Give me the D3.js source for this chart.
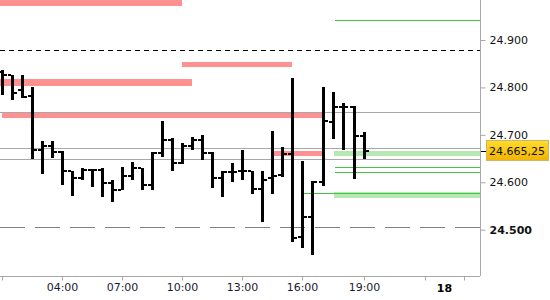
<!DOCTYPE html>
<html>
<head>
    <script src="https://cdn.jsdelivr.net/npm/d3@7"></script>
    <style>
        body { margin: 0; background: #fff; }
        text { font-family: "DejaVu Sans", sans-serif; font-size: 11px; }
    </style>
</head>
<body>
    <svg width="550" height="300"></svg>
    <script>
        // half-hour bars, hour of day 17 (1.0 = 01:00)
        var hours = d3.range(37).map(function(i) { return 1 + i * 0.5; });
        var opens  = [24.833, 24.826, 24.795, 24.782, 24.668, 24.676, 24.664, 24.624, 24.609, 24.626,
                      24.626, 24.598, 24.584, 24.613, 24.630, 24.594, 24.662, 24.689, 24.641, 24.676,
                      24.689, 24.662, 24.609, 24.622, 24.624, 24.624, 24.586, 24.609, 24.615, 24.660,
                      24.485, 24.527, 24.601, 24.727, 24.759, 24.759, 24.698];
        var highs  = [24.837, 24.826, 24.826, 24.801, 24.687, 24.687, 24.666, 24.624, 24.630, 24.628,
                      24.630, 24.605, 24.632, 24.643, 24.630, 24.664, 24.729, 24.693, 24.683, 24.695,
                      24.700, 24.664, 24.624, 24.641, 24.668, 24.624, 24.624, 24.708, 24.674, 24.820,
                      24.645, 24.603, 24.801, 24.790, 24.767, 24.761, 24.706];
        var lows   = [24.784, 24.773, 24.778, 24.649, 24.617, 24.651, 24.594, 24.571, 24.605, 24.590,
                      24.569, 24.558, 24.584, 24.605, 24.584, 24.584, 24.653, 24.624, 24.638, 24.668,
                      24.647, 24.588, 24.569, 24.601, 24.605, 24.575, 24.516, 24.575, 24.611, 24.474,
                      24.461, 24.447, 24.592, 24.691, 24.668, 24.607, 24.649];
        var closes = [24.826, 24.788, 24.780, 24.668, 24.676, 24.664, 24.624, 24.609, 24.626, 24.626,
                      24.598, 24.584, 24.613, 24.630, 24.594, 24.662, 24.689, 24.641, 24.676, 24.689,
                      24.662, 24.609, 24.622, 24.622, 24.624, 24.586, 24.605, 24.613, 24.660, 24.482,
                      24.527, 24.601, 24.729, 24.759, 24.759, 24.698, 24.665];

        var lastPrice = 24.66525;
        var priceTicks = [24.5, 24.6, 24.7, 24.8, 24.9];
        var timeTicks = [1, 4, 7, 10, 13, 16, 19, 22, 24];
        var timeLabels = ["", "04:00", "07:00", "10:00", "13:00", "16:00", "19:00", "", ""];

        // zones: [fromHour, toHour, topPrice, bottomPrice]
        var redZones = [[0.9, 10.0, 24.985, 24.972], [10.0, 15.5, 24.854, 24.843],
                        [0.9, 10.5, 24.818, 24.803], [1.0, 17.0, 24.748, 24.736],
                        [14.6, 17.0, 24.666, 24.655]];
        var greenZones = [[17.55, 24.9, 24.666, 24.655], [17.55, 24.9, 24.579, 24.567]];
        // lines: [fromHour, price]
        var greenLines = [[17.6, 24.943], [17.6, 24.632], [17.6, 24.621], [16.0, 24.577]];
        var greyLines = [24.748, 24.672, 24.650];
        var blackDashed = 24.879;
        var greyDashed = 24.505;

        var plotW = 480, plotH = 276;
        var svg = d3.select("svg");

        var x = d3.scaleLinear()
            .domain([0.9, 16, 19, 22, 24, 24.9])
            .range([0, 302, 364, 425, 464, 480]);
        var y = d3.scaleLinear()
            .domain([24.5, 24.9])
            .range([229.7, 40]);

        var g = svg.append("g").attr("shape-rendering", "crispEdges");

        function zone(d) {
            return { x: x(d[0]), w: x(d[1]) - x(d[0]), y: y(d[2]), h: y(d[3]) - y(d[2]) };
        }
        g.selectAll(".rz").data(redZones).enter().append("rect")
            .attr("x", function(d) { return zone(d).x; })
            .attr("y", function(d) { return Math.max(0, zone(d).y); })
            .attr("width", function(d) { return zone(d).w; })
            .attr("height", function(d) { return zone(d).y + zone(d).h - Math.max(0, zone(d).y); })
            .attr("fill", "#ff9191");
        g.selectAll(".gz").data(greenZones).enter().append("rect")
            .attr("x", function(d) { return zone(d).x; })
            .attr("y", function(d) { return zone(d).y; })
            .attr("width", function(d) { return zone(d).w; })
            .attr("height", function(d) { return zone(d).h; })
            .attr("fill", "#b5e8b3");

        g.selectAll(".gl").data(greyLines).enter().append("line")
            .attr("x1", 0).attr("x2", plotW)
            .attr("y1", function(d) { return Math.round(y(d)) + 0.5; })
            .attr("y2", function(d) { return Math.round(y(d)) + 0.5; })
            .attr("stroke", "#a8a8a8");

        g.selectAll(".grl").data(greenLines).enter().append("line")
            .attr("x1", function(d) { return x(d[0]); }).attr("x2", plotW)
            .attr("y1", function(d) { return Math.round(y(d[1])) + 0.5; })
            .attr("y2", function(d) { return Math.round(y(d[1])) + 0.5; })
            .attr("stroke", "#44c444");

        g.append("line")
            .attr("x1", 0).attr("x2", plotW)
            .attr("y1", Math.round(y(blackDashed)) + 0.5).attr("y2", Math.round(y(blackDashed)) + 0.5)
            .attr("stroke", "#000").attr("stroke-dasharray", "5,4");
        g.append("line")
            .attr("x1", 0).attr("x2", plotW)
            .attr("y1", Math.round(y(greyDashed)) + 0.5).attr("y2", Math.round(y(greyDashed)) + 0.5)
            .attr("stroke", "#808080").attr("stroke-dasharray", "25,10");

        // OHLC bars
        var bars = g.selectAll(".bar").data(hours).enter().append("g");
        bars.append("rect")
            .attr("x", function(d) { return Math.round(x(d)) - 1; })
            .attr("y", function(d, i) { return Math.round(y(highs[i])); })
            .attr("width", 3)
            .attr("height", function(d, i) { return Math.round(y(lows[i])) - Math.round(y(highs[i])); })
            .attr("fill", "#000");
        bars.append("rect")
            .attr("x", function(d) { return Math.round(x(d)) - 4; })
            .attr("y", function(d, i) { return Math.round(y(opens[i])) - 1; })
            .attr("width", 3).attr("height", 2)
            .attr("fill", "#000");
        bars.append("rect")
            .attr("x", function(d) { return Math.round(x(d)) + 2; })
            .attr("y", function(d, i) { return Math.round(y(closes[i])) - 1; })
            .attr("width", 3).attr("height", 2)
            .attr("fill", "#000");

        // y axis on the right
        var yAxis = svg.append("g")
            .attr("transform", "translate(" + (plotW + 0.5) + ",0)")
            .call(d3.axisRight(y).tickValues(priceTicks).tickSize(5).tickPadding(4)
                .tickFormat(d3.format(".3f")));
        yAxis.select(".domain").remove();
        yAxis.selectAll(".tick line").attr("stroke", "#a8a8a8");
        yAxis.selectAll(".tick text")
            .attr("fill", "#111")
            .style("font-size", "11px")
            .style("font-weight", function(d) { return d === 24.5 ? "bold" : "normal"; });
        svg.append("line")
            .attr("x1", plotW + 0.5).attr("x2", plotW + 0.5)
            .attr("y1", 0).attr("y2", plotH)
            .attr("stroke", "#a8a8a8");

        // x axis
        var xAxis = svg.append("g")
            .attr("transform", "translate(0," + (plotH + 0.5) + ")")
            .call(d3.axisBottom(x).tickValues(timeTicks).tickSize(4).tickPadding(3)
                .tickFormat(function(d, i) { return timeLabels[i]; }));
        xAxis.select(".domain").remove();
        xAxis.selectAll(".tick line").attr("stroke", "#a8a8a8");
        xAxis.selectAll(".tick text").attr("fill", "#1a1a33").style("font-size", "11px");
        svg.append("line")
            .attr("x1", 0).attr("x2", plotW)
            .attr("y1", plotH + 0.5).attr("y2", plotH + 0.5)
            .attr("stroke", "#a8a8a8");
        svg.append("text")
            .attr("x", x(23)).attr("y", plotH + 16)
            .attr("text-anchor", "middle")
            .style("font-weight", "bold").style("font-size", "11px")
            .attr("fill", "#000")
            .text("18");

        // last price tag
        var defs = svg.append("defs");
        var grad = defs.append("linearGradient").attr("id", "tag")
            .attr("x1", 0).attr("y1", 0).attr("x2", 0).attr("y2", 1);
        grad.append("stop").attr("offset", "0%").attr("stop-color", "#ffdc2e");
        grad.append("stop").attr("offset", "100%").attr("stop-color", "#f2b300");
        var py = Math.round(y(lastPrice));
        svg.append("line")
            .attr("x1", plotW + 1).attr("x2", plotW + 7)
            .attr("y1", py + 0.5).attr("y2", py + 0.5)
            .attr("stroke", "#000");
        svg.append("rect")
            .attr("x", 486.5).attr("y", py - 10.5)
            .attr("width", 62).attr("height", 20)
            .attr("fill", "url(#tag)").attr("stroke", "#cdb46a");
        svg.append("text")
            .attr("x", 489).attr("y", py + 0.5).attr("dy", "0.35em")
            .attr("fill", "#111")
            .text(d3.format(".5f")(lastPrice).replace(/(\d+\.\d{3})(\d{2})/, "$1,$2"));
    </script>
</body>
</html>
